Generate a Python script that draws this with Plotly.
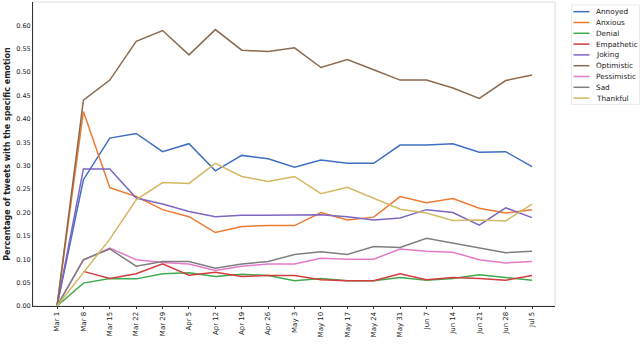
import plotly.graph_objects as go

dates = ["Mar 1", "Mar 8", "Mar 15", "Mar 22", "Mar 29", "Apr 5", "Apr 12", "Apr 19",
         "Apr 26", "May 3", "May 10", "May 17", "May 24", "May 31", "Jun 7", "Jun 14",
         "Jun 21", "Jun 28", "Jul 5"]

annoyed = [0.0, 0.270, 0.359, 0.369, 0.330, 0.347, 0.289, 0.322, 0.315, 0.297, 0.312, 0.305,
           0.305, 0.344, 0.344, 0.347, 0.329, 0.330, 0.298]
anxious = [0.0, 0.416, 0.253, 0.234, 0.206, 0.191, 0.157, 0.170, 0.172, 0.172, 0.200, 0.184,
           0.190, 0.234, 0.221, 0.230, 0.209, 0.199, 0.206]
denial = [0.0, 0.049, 0.059, 0.058, 0.069, 0.071, 0.063, 0.068, 0.065, 0.054, 0.059, 0.054,
          0.054, 0.061, 0.055, 0.059, 0.067, 0.061, 0.055]
empathetic = [None, 0.074, 0.059, 0.069, 0.090, 0.066, 0.072, 0.063, 0.065, 0.065, 0.056, 0.054,
              0.054, 0.069, 0.056, 0.061, 0.059, 0.055, 0.065]
joking = [0.0, 0.293, 0.293, 0.231, 0.218, 0.202, 0.191, 0.194, 0.194, 0.195, 0.195, 0.191,
          0.184, 0.188, 0.206, 0.200, 0.173, 0.210, 0.189]
optimistic = [0.0, 0.440, 0.483, 0.566, 0.589, 0.537, 0.591, 0.547, 0.544, 0.552, 0.510, 0.527,
              0.505, 0.483, 0.483, 0.466, 0.444, 0.482, 0.494]
pessimistic = [0.0, 0.098, 0.124, 0.099, 0.093, 0.090, 0.076, 0.085, 0.090, 0.090, 0.102, 0.100,
               0.100, 0.122, 0.117, 0.115, 0.099, 0.092, 0.095]
sad = [0.0, 0.099, 0.122, 0.085, 0.095, 0.095, 0.081, 0.090, 0.095, 0.110, 0.116, 0.110,
       0.127, 0.125, 0.145, 0.135, 0.125, 0.114, 0.117]
thankful = [0.0, 0.072, 0.143, 0.227, 0.264, 0.262, 0.305, 0.277, 0.266, 0.277, 0.240, 0.254,
            0.231, 0.207, 0.199, 0.183, 0.184, 0.182, 0.218]

series = [
    ("Annoyed", annoyed, "#3F6EC4"),
    ("Anxious", anxious, "#EE7A30"),
    ("Denial", denial, "#3FAA4E"),
    ("Empathetic", empathetic, "#D43D3F"),
    ("Joking", joking, "#7E66C2"),
    ("Optimistic", optimistic, "#8C6A4F"),
    ("Pessimistic", pessimistic, "#E47BC8"),
    ("Sad", sad, "#7F7F7F"),
    ("Thankful", thankful, "#D4B863"),
]

yticks = [round(i * 0.05, 2) for i in range(14)]

W, H = 640, 344
ML, MR, MT, MB = 33, 85, 2, 38
PW, PH = W - ML - MR, H - MT - MB


def px_x(p):
    return (p - ML) / PW


def px_y(p):
    return (H - MB - p) / PH


fig = go.Figure()
for name, vals, color in series:
    fig.add_trace(go.Scatter(x=list(range(len(dates))), y=vals, mode="lines", name=name,
                             line=dict(color=color, width=1.5), showlegend=False))

shapes = [dict(type="rect", xref="paper", yref="paper", x0=0, y0=0, x1=1, y1=1,
               line=dict(color="#dddddd", width=1), layer="below"),
          dict(type="rect", xref="paper", yref="paper", x0=px_x(571.5), x1=px_x(639.5),
               y0=px_y(104.5), y1=px_y(5), line=dict(color="#ebebeb", width=1),
               fillcolor="white", layer="below")]
annotations = []
row0, step = 11.7, 10.8
for i, (name, vals, color) in enumerate(series):
    yy = px_y(row0 + i * step)
    shapes.append(dict(type="line", xref="paper", yref="paper", x0=px_x(573.5), x1=px_x(589.5),
                       y0=yy, y1=yy, line=dict(color=color, width=1.5)))
    annotations.append(dict(xref="paper", yref="paper", x=px_x(594), y=yy, text=name,
                            showarrow=False, xanchor="left", yanchor="middle",
                            font=dict(size=7.3, color="#222")))

fig.update_layout(
    width=W, height=H,
    margin=dict(l=ML, r=MR, t=MT, b=MB, autoexpand=False),
    paper_bgcolor="white", plot_bgcolor="white",
    font=dict(family="DejaVu Sans", size=7, color="#222"),
    showlegend=False,
    shapes=shapes,
    annotations=annotations,
    xaxis=dict(range=[-0.91, 18.87], tickmode="array", tickvals=list(range(len(dates))),
               ticktext=dates, tickangle=-90, showgrid=False, zeroline=False,
               showline=True, linecolor="#333", linewidth=1, ticks="outside",
               ticklen=2, tickcolor="#333", automargin=False,
               tickfont=dict(size=7)),
    yaxis=dict(range=[0, 0.65], tickmode="array", tickvals=yticks,
               ticktext=[f"{v:.2f}" for v in yticks], showgrid=False, zeroline=False,
               showline=True, linecolor="#333", linewidth=1, ticks="", automargin=False,
               tickfont=dict(size=6.5),
               title=dict(text="<b>Percentage of tweets with the specific emotion</b>",
                          font=dict(size=8), standoff=4)),
)

fig.write_html("out.html", config={"displayModeBar": False},
               post_script="document.body.style.margin='0';")
